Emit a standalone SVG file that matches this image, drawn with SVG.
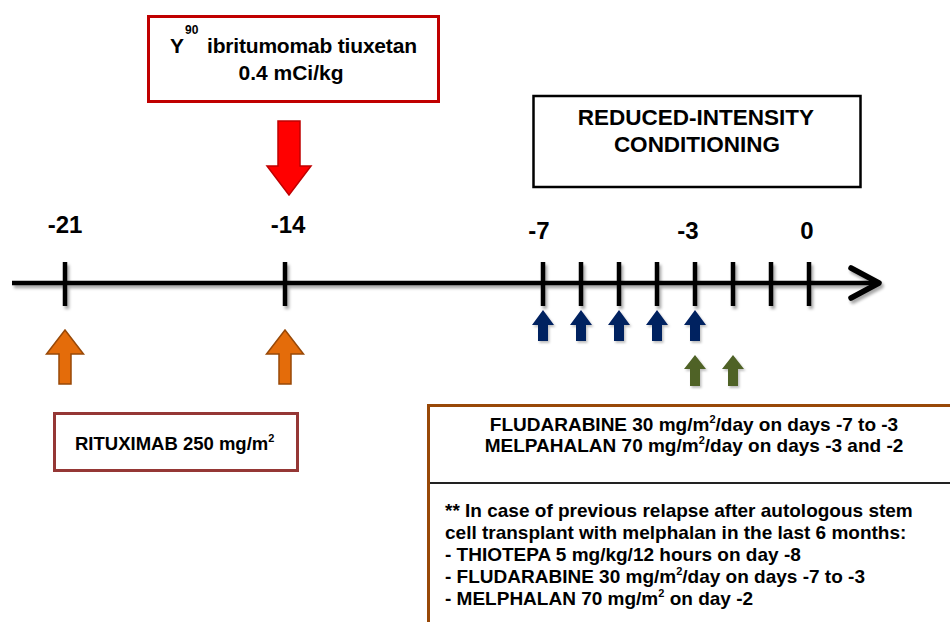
<svg xmlns="http://www.w3.org/2000/svg" width="950" height="622" viewBox="0 0 950 622">
<defs>
<filter id="sh" x="-10%" y="-50%" width="120%" height="200%">
<feDropShadow dx="2" dy="3" stdDeviation="1.8" flood-color="#000" flood-opacity="0.35"/>
</filter>
<filter id="sh2" x="-30%" y="-30%" width="160%" height="160%">
<feDropShadow dx="1.5" dy="2" stdDeviation="1.2" flood-color="#000" flood-opacity="0.25"/>
</filter>
</defs>
<style>
text{font-family:"Liberation Sans",Arial,sans-serif;font-weight:bold;fill:#000}
.tl{stroke:#000;stroke-width:4.5;fill:none;stroke-linecap:butt}
.orange{fill:#e46c0a;stroke:#984807;stroke-width:1.5}
.blue{fill:#002060}
.green{fill:#4f6228}
.lab{font-size:24px;text-anchor:middle}
.big{font-size:19px}
</style>
<rect width="950" height="622" fill="#fff"/>

<g id="y90-box">
<rect x="148.5" y="16.5" width="290" height="85" fill="#fff" stroke="#c00000" stroke-width="3"/>
<text font-size="21" x="170" y="53">Y</text>
<text font-size="12" x="185" y="34">90</text>
<text font-size="21" x="207" y="53" textLength="210">ibritumomab tiuxetan</text>
<text font-size="21" x="291" y="80" text-anchor="middle">0.4 mCi/kg</text>
</g>

<g id="ric-box">
<rect x="533.5" y="96" width="327" height="91" fill="#fff" stroke="#000" stroke-width="2.5"/>
<text font-size="22.5" x="696" y="125" text-anchor="middle">REDUCED-INTENSITY</text>
<text font-size="22.5" x="697" y="152" text-anchor="middle">CONDITIONING</text>
</g>

<g id="timeline" filter="url(#sh)">
<line class="tl" x1="12" y1="283" x2="876" y2="283"/>
<g class="tl">
<line x1="65" y1="262" x2="65" y2="306"/>
<line x1="285" y1="262" x2="285" y2="306"/>
<line x1="543" y1="262" x2="543" y2="306"/>
<line x1="581" y1="262" x2="581" y2="306"/>
<line x1="619" y1="262" x2="619" y2="306"/>
<line x1="657" y1="262" x2="657" y2="306"/>
<line x1="695" y1="262" x2="695" y2="306"/>
<line x1="733" y1="262" x2="733" y2="306"/>
<line x1="771" y1="262" x2="771" y2="306"/>
<line x1="809" y1="262" x2="809" y2="306"/>
</g>
<polyline points="851,268 879,283 851,298" fill="none" stroke="#000" stroke-width="5.5" stroke-linecap="round" stroke-linejoin="round"/>
</g>

<g id="day-labels">
<text class="lab" x="65" y="233">-21</text>
<text class="lab" x="288" y="233">-14</text>
<text class="lab" x="539" y="239">-7</text>
<text class="lab" x="688" y="239">-3</text>
<text class="lab" x="807" y="239">0</text>
</g>

<g id="connectors">
<g id="red-arrow">
<polygon points="278,121 300,121 300,166 311,166 289,195 267,166 278,166" fill="#ff0000" stroke="#c00000" stroke-width="1.5"/>
</g>
<g id="rituximab-arrows">
<polygon class="orange" points="65,330 83.5,354 71,354 71,384 59,384 59,354 46.5,354"/>
<polygon class="orange" points="285,330 303.5,354 291,354 291,384 279,384 279,354 266.5,354"/>
</g>
<g id="fludarabine-arrows" filter="url(#sh2)">
<polygon class="blue" points="543,310 554,325 548,325 548,341 538,341 538,325 532,325"/>
<polygon class="blue" points="581,310 592,325 586,325 586,341 576,341 576,325 570,325"/>
<polygon class="blue" points="619,310 630,325 624,325 624,341 614,341 614,325 608,325"/>
<polygon class="blue" points="657,310 668,325 662,325 662,341 652,341 652,325 646,325"/>
<polygon class="blue" points="695,310 706,325 700,325 700,341 690,341 690,325 684,325"/>
</g>
<g id="melphalan-arrows" filter="url(#sh2)">
<polygon class="green" points="695,355 706,369 700,369 700,386 690,386 690,369 684,369"/>
<polygon class="green" points="733,355 744,369 738,369 738,386 728,386 728,369 722,369"/>
</g>
</g>

<g id="rituximab-box">
<rect x="54.5" y="413.5" width="243" height="57" fill="#fff" stroke="#953735" stroke-width="3"/>
<text font-size="18.5" x="75" y="450">RITUXIMAB 250 mg/m<tspan font-size="11" dy="-8">2</tspan></text>
</g>

<g id="regimen-box">
<rect x="428.5" y="405.5" width="540" height="240" fill="#fff" stroke="#984807" stroke-width="3"/>
<line x1="430" y1="483" x2="950" y2="483" stroke="#222" stroke-width="2"/>
<text class="big" x="694" y="431" text-anchor="middle">FLUDARABINE 30 mg/m<tspan font-size="11" dy="-8">2</tspan><tspan dy="8">/day on days -7 to -3</tspan></text>
<text class="big" x="694" y="452" text-anchor="middle">MELPAHALAN 70 mg/m<tspan font-size="11" dy="-8">2</tspan><tspan dy="8">/day on days -3 and -2</tspan></text>
<text class="big" x="445" y="517">** In case of previous relapse after autologous stem</text>
<text class="big" x="445" y="539">cell transplant with melphalan in the last 6 months:</text>
<text class="big" x="445" y="561">- THIOTEPA 5 mg/kg/12 hours on day -8</text>
<text class="big" x="445" y="583">- FLUDARABINE 30 mg/m<tspan font-size="11" dy="-8">2</tspan><tspan dy="8">/day on days -7 to -3</tspan></text>
<text class="big" x="445" y="605">- MELPHALAN 70 mg/m<tspan font-size="11" dy="-8">2</tspan><tspan dy="8"> on day -2</tspan></text>
</g>
</svg>
